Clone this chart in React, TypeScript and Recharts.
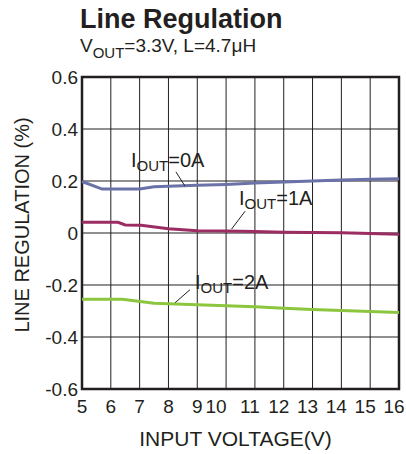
import React from 'react';
import {
  LineChart,
  Line,
  XAxis,
  YAxis,
  CartesianGrid,
  ReferenceArea,
  ReferenceLine,
  ReferenceDot,
} from 'recharts';

// input voltage (V) / line regulation (%) for each load current
const vin0A = [5, 5.7, 7.0, 7.5, 9, 10, 11, 12, 13, 14, 15, 16];
const reg0A = [0.198, 0.169, 0.169, 0.178, 0.184, 0.187, 0.192, 0.196, 0.2, 0.204, 0.207, 0.209];

const vin1A = [5, 6.25, 6.5, 7.05, 8, 9, 10, 11, 12, 13, 14, 15, 16];
const reg1A = [0.041, 0.041, 0.031, 0.03, 0.016, 0.009, 0.008, 0.006, 0.003, 0.002, 0.001, -0.002, -0.005];

const vin2A = [5, 6.4, 7.5, 9, 10, 11, 12, 13, 14, 15, 16];
const reg2A = [-0.255, -0.255, -0.27, -0.276, -0.28, -0.284, -0.289, -0.294, -0.298, -0.302, -0.306];

const xTicks = [5, 6, 7, 8, 9, 10, 11, 12, 13, 14, 15, 16];
const yTicks = [-0.6, -0.4, -0.2, 0, 0.2, 0.4, 0.6];

const toPoints = (xs: number[], ys: number[]) => xs.map((v, i) => ({ vin: v, reg: ys[i] }));

const FONT = '"Liberation Sans", Arial, sans-serif';
const INK = '#231f20';

const IoutLabel = ({ viewBox, amps }: any) => (
  <text x={viewBox.x} y={viewBox.y} fontFamily={FONT} fill={INK} fontSize={20}>
    I
    <tspan fontSize={15} dy={4}>OUT</tspan>
    <tspan dy={-4}>={amps}</tspan>
  </text>
);

// the two-digit labels sit a little left of their grid lines in the original
const XTick = ({ x, y, payload }: any) => {
  const v = payload.value;
  const dx = v === 10 ? -10 : v > 10 ? -5 : 0;
  return (
    <text x={x + dx} y={y + 24} textAnchor="middle" fontFamily={FONT} fontSize={19} fill={INK}>
      {v}
    </text>
  );
};

const XTitle = ({ viewBox }: any) => (
  <text
    x={viewBox.x + viewBox.width / 2 - 5}
    y={viewBox.y + 57}
    textAnchor="middle"
    fontFamily={FONT}
    fontSize={21}
    fill={INK}
  >
    INPUT VOLTAGE(V)
  </text>
);

const YTitle = ({ viewBox }: any) => {
  const cx = viewBox.x + 22;
  const cy = viewBox.y + viewBox.height / 2 - 8;
  return (
    <text
      x={cx}
      y={cy}
      transform={`rotate(-90 ${cx} ${cy})`}
      textAnchor="middle"
      dominantBaseline="central"
      fontFamily={FONT}
      fontSize={20}
      fill={INK}
    >
      LINE REGULATION (%)
    </text>
  );
};

export default function App() {
  const tickStyle = { fontSize: 19, fill: INK, fontFamily: FONT };
  return (
    <div style={{ position: 'absolute', left: 0, top: 0, width: 406, height: 454, background: '#fff' }}>
      <LineChart width={406} height={454} margin={{ top: 77, right: 7, bottom: 0, left: 0 }}>
        <CartesianGrid stroke={INK} strokeWidth={1} />
        <XAxis
          type="number"
          dataKey="vin"
          domain={[5, 16]}
          ticks={xTicks}
          interval={0}
          height={65}
          tickSize={0}
          tickMargin={0}
          axisLine={false}
          tick={<XTick />}
          label={<XTitle />}
        />
        <YAxis
          type="number"
          domain={[-0.6, 0.6]}
          ticks={yTicks}
          interval={0}
          width={82}
          tickSize={0}
          tickMargin={4}
          axisLine={false}
          tick={tickStyle}
          tickFormatter={(v: number) => (v === 0 ? '0' : v.toFixed(1))}
          label={<YTitle />}
        />
        <ReferenceArea x1={5} x2={16} y1={-0.6} y2={0.6} fill="none" fillOpacity={0} stroke={INK} strokeWidth={2.5} />
        <Line data={toPoints(vin0A, reg0A)} dataKey="reg" type="linear" stroke="#6a72a8" strokeWidth={3} dot={false} isAnimationActive={false} />
        <Line data={toPoints(vin1A, reg1A)} dataKey="reg" type="linear" stroke="#9b2d62" strokeWidth={3} dot={false} isAnimationActive={false} />
        <Line data={toPoints(vin2A, reg2A)} dataKey="reg" type="linear" stroke="#8cc63f" strokeWidth={3} dot={false} isAnimationActive={false} />
        <ReferenceLine segment={[{ x: 8.26, y: 0.235 }, { x: 8.57, y: 0.181 }]} stroke={INK} strokeWidth={1} />
        <ReferenceLine segment={[{ x: 10.66, y: 0.084 }, { x: 10.19, y: 0.015 }]} stroke={INK} strokeWidth={1} />
        <ReferenceLine segment={[{ x: 8.75, y: -0.218 }, { x: 8.23, y: -0.268 }]} stroke={INK} strokeWidth={1} />
        <ReferenceDot x={6.7} y={0.253} r={0} fill="none" stroke="none" label={<IoutLabel amps="0A" />} />
        <ReferenceDot x={10.45} y={0.109} r={0} fill="none" stroke="none" label={<IoutLabel amps="1A" />} />
        <ReferenceDot x={8.92} y={-0.214} r={0} fill="none" stroke="none" label={<IoutLabel amps="2A" />} />
      </LineChart>
      <svg width={406} height={70} style={{ position: 'absolute', left: 0, top: 0 }}>
        <text x={80} y={28} fontFamily={FONT} fontWeight="bold" fontSize={27} fill={INK}>
          Line Regulation
        </text>
        <text x={80} y={52} fontFamily={FONT} fontSize={19} fill={INK}>
          V
          <tspan fontSize={15} dy={6}>OUT</tspan>
          <tspan dy={-6}>=3.3V, L=4.7μH</tspan>
        </text>
      </svg>
    </div>
  );
}
